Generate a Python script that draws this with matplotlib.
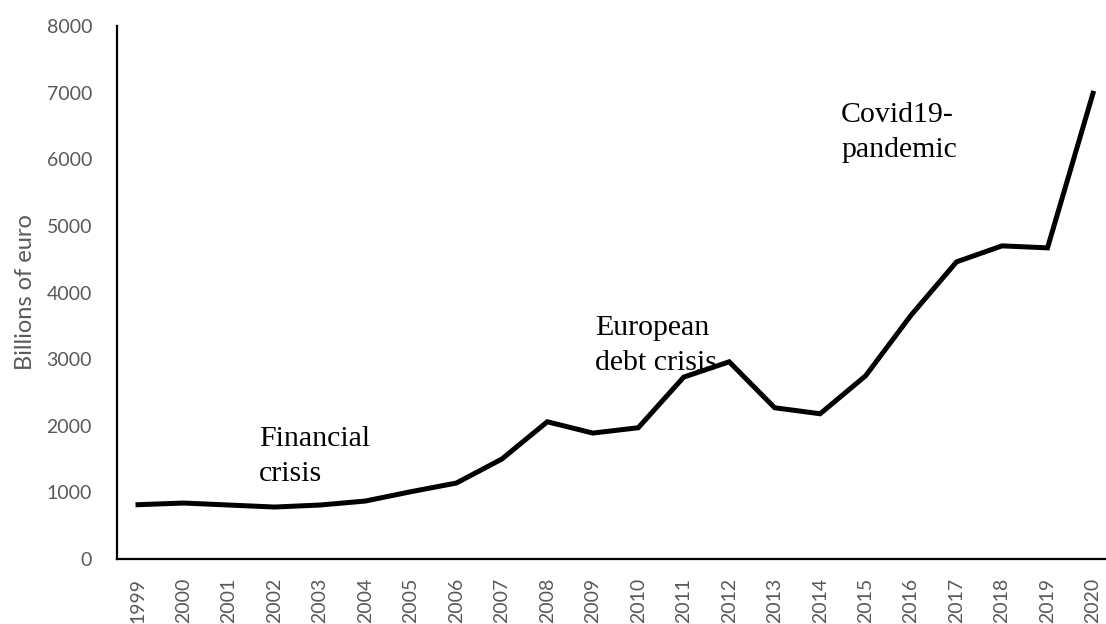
import matplotlib
matplotlib.use('Agg')
import matplotlib.pyplot as plt

# values (billions of euro)
years = [1999, 2000, 2001, 2002, 2003, 2004, 2005, 2006, 2007, 2008, 2009,
         2010, 2011, 2012, 2013, 2014, 2015, 2016, 2017, 2018, 2019, 2020]
values = [815, 840, 810, 780, 810, 870, 1010, 1140, 1500, 2060, 1890,
          1970, 2730, 2960, 2270, 2180, 2750, 3660, 4460, 4700, 4670, 6990]
y_ticks = [0, 1000, 2000, 3000, 4000, 5000, 6000, 7000, 8000]

# annotations: (lines, x position in category units, baseline of first line)
notes = [(["Financial", "crisis"], 2.66, 1700),
         (["European", "debt crisis"], 10.05, 3362),
         (["Covid19-", "pandemic"], 15.46, 6560)]

tick_color = '#595959'
W, H = 1106, 624

fig = plt.figure(figsize=(W / 100, H / 100), dpi=100)
# axes from the left spine (117 px) to the right border, 0 at 559 px, 8000 at 26 px
ax = fig.add_axes([117 / W, 1 - 559 / H, (W - 117) / W, (559 - 26) / H])

x = list(range(len(years)))
ax.plot(x, values, color='black', linewidth=3.6, solid_joinstyle='miter')

ax.set_xlim(-0.462, 21.286)
ax.set_ylim(0, 8000)
ax.set_yticks(y_ticks)
ax.set_yticklabels([str(v) for v in y_ticks], fontfamily='Lato', fontsize=14, color=tick_color)
ax.set_xticks(x)
ax.set_xticklabels([str(y) for y in years], rotation=90, fontfamily='Lato',
                   fontsize=14, color=tick_color)
ax.tick_params(axis='both', length=0)
ax.tick_params(axis='y', pad=18)
ax.tick_params(axis='x', pad=13.5)

ax.spines['top'].set_visible(False)
ax.spines['right'].set_visible(False)
ax.spines['left'].set_linewidth(1.6)
ax.spines['bottom'].set_linewidth(1.6)

ax.set_ylabel('Billions of euro', fontfamily='Lato', fontsize=17, color=tick_color)
ax.yaxis.set_label_coords((36 - 117) / (W - 117), 0.5)

for lines, xpos, base in notes:
    for i, line in enumerate(lines):
        ax.annotate(line, xy=(xpos, base), xytext=(0, -25.2 * i), textcoords='offset points',
                    ha='left', va='baseline', fontfamily='Liberation Serif',
                    fontsize=21.5, color='black')

fig.savefig('out.png', dpi=100)
